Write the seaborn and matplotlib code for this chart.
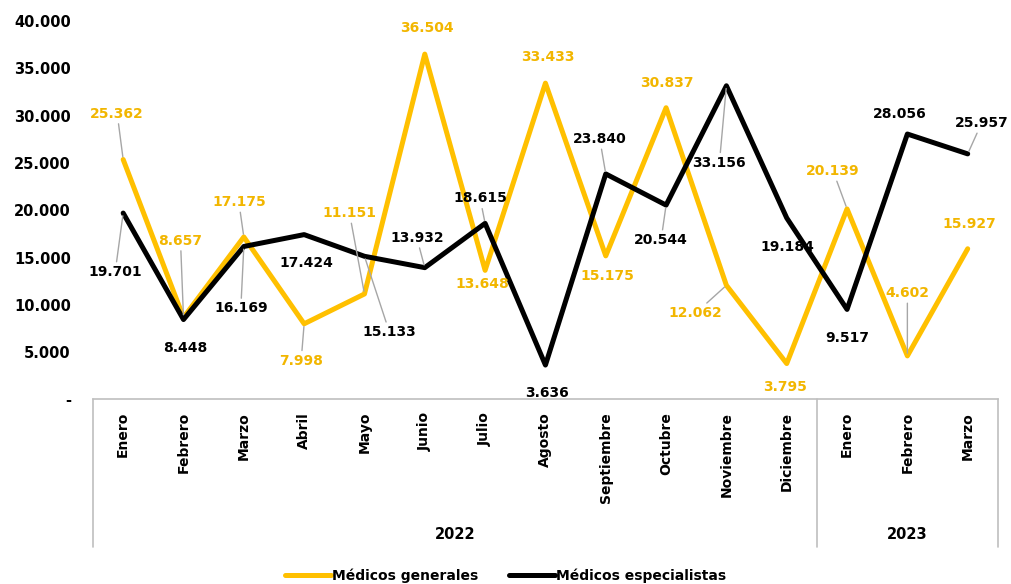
import matplotlib
matplotlib.use("Agg")
import matplotlib.pyplot as plt
import matplotlib.transforms as mtransforms
from matplotlib.ticker import FuncFormatter
import seaborn as sns
import pandas as pd

# Data
months = ["Enero", "Febrero", "Marzo", "Abril", "Mayo", "Junio", "Julio", "Agosto",
          "Septiembre", "Octubre", "Noviembre", "Diciembre", "Enero", "Febrero", "Marzo"]
years = ["2022", "2023"]
months_per_year = [12, 3]
generales = [25362, 8657, 17175, 7998, 11151, 36504, 13648, 33433,
             15175, 30837, 12062, 3795, 20139, 4602, 15927]
especialistas = [19701, 8448, 16169, 17424, 15133, 13932, 18615, 3636,
                 23840, 20544, 33156, 19184, 9517, 28056, 25957]
series_names = ["Médicos generales", "Médicos especialistas"]

# label offsets in pixels (dx, dy, leader line?)
gen_offsets = [(-6, 46, True), (-3, 77, True), (-5, 35, True), (-3, -37, True), (-15, 81, True),
               (2, 26, False), (-3, -14, False), (2, 26, False), (2, -20, False), (1, 25, False),
               (-31, -28, True), (-2, -23, False), (-14, 38, True), (0, 63, True), (2, 25, False)]
esp_offsets = [(-8, -59, True), (2, -28, False), (-3, -62, True), (2, -28, False), (25, -76, True),
               (-8, 30, True), (-5, 25, True), (2, -28, False), (-6, 35, True), (-5, -35, True),
               (-7, -77, True), (1, -29, False), (0, -29, False), (-8, 20, False), (14, 31, True)]

YELLOW = "#FFC000"
YELLOW_TXT = "#F2B600"
BLACK = "#000000"
GRID = "#BFBFBF"


def fmt_miles(v, pos=None):
    if v == 0:
        return "-"
    return f"{int(v):,}".replace(",", ".")


df = pd.DataFrame({
    "idx": list(range(len(months))) * 2,
    "valor": generales + especialistas,
    "serie": [series_names[0]] * len(generales) + [series_names[1]] * len(especialistas),
})

sns.set_style("white")
plt.rcParams["font.family"] = ["DejaVu Sans"]
plt.rcParams["text.color"] = "black"

fig = plt.figure(figsize=(10.11, 5.84), dpi=100)
ax = fig.add_axes([0.092, 0.316, 0.895, 0.648])

sns.lineplot(data=df, x="idx", y="valor", hue="serie",
             palette={series_names[0]: YELLOW, series_names[1]: BLACK},
             linewidth=3.6, ax=ax)

ax.set_xlim(-0.5, len(months) - 0.5)
ax.set_ylim(0, 40000)
ax.set_yticks(range(0, 40001, 5000))
ax.yaxis.set_major_formatter(FuncFormatter(fmt_miles))
ax.set_xticks(range(len(months)))
ax.set_xticklabels(months, rotation=90, fontsize=10, fontweight="bold", va="top")
ax.tick_params(axis="x", length=0, pad=9, labelcolor="black")
ax.tick_params(axis="y", length=0, pad=16, labelsize=10.5, labelcolor="black")
for lab in ax.get_yticklabels():
    lab.set_fontweight("bold")
ax.set_xlabel("")
ax.set_ylabel("")

for s in ["top", "right", "left"]:
    ax.spines[s].set_visible(False)
ax.spines["bottom"].set_color(GRID)
ax.spines["bottom"].set_linewidth(1.2)

# multi-level category box below the axis
trans = mtransforms.blended_transform_factory(ax.transData, ax.transAxes)
bounds = [-0.5]
for n in months_per_year:
    bounds.append(bounds[-1] + n)
for b in bounds:
    ax.plot([b, b], [0, -0.39], color=GRID, lw=1.2, transform=trans, clip_on=False)
for i, yr in enumerate(years):
    ax.text((bounds[i] + bounds[i + 1]) / 2, -0.358, yr, transform=trans,
            ha="center", va="center", fontsize=10.5, fontweight="bold", color="black")

# data labels
for vals, offs, col in [(generales, gen_offsets, YELLOW_TXT), (especialistas, esp_offsets, BLACK)]:
    for i, (v, (dx, dy, lead)) in enumerate(zip(vals, offs)):
        kw = {}
        if lead:
            kw["arrowprops"] = dict(arrowstyle="-", color="#A6A6A6", lw=1,
                                    shrinkA=0, shrinkB=2)
        ax.annotate(fmt_miles(v), xy=(i, v), xytext=(dx, dy), textcoords="offset pixels",
                    ha="center", va="center", fontsize=10, fontweight="bold",
                    color=col, **kw)

handles, labels = ax.get_legend_handles_labels()
ax.get_legend().remove()
fig.legend(handles, labels, loc="center", bbox_to_anchor=(0.5, 1 - 576 / 584), ncol=2,
           frameon=False, handlelength=3.3, handletextpad=0.1, columnspacing=2.2,
           prop={"weight": "bold", "size": 10}, labelcolor="black")

fig.savefig("out.png", dpi=100)
